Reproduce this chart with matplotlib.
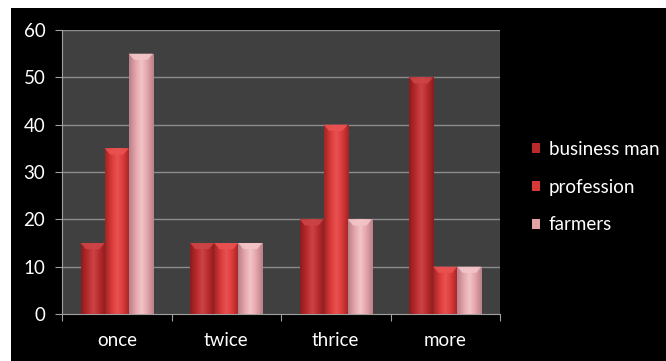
import matplotlib
matplotlib.use("Agg")
import matplotlib.pyplot as plt
import numpy as np
from matplotlib.colors import LinearSegmentedColormap
from matplotlib.patches import Rectangle, Polygon

categories = ["once", "twice", "thrice", "more"]
series_names = ["business man", "profession", "farmers"]
business_man = [15, 15, 20, 50]
profession = [35, 15, 40, 10]
farmers = [55, 15, 20, 10]
yticks = [0, 10, 20, 30, 40, 50, 60]

series = [business_man, profession, farmers]
base_colors = ["#b82a2c", "#d83838", "#e2a3a8"]
edge_dark = ["#8a1c1e", "#a02424", "#b88088"]
light = ["#cc4446", "#ea5252", "#f2c4c8"]

plt.rcParams['font.family'] = ['Lato', 'DejaVu Sans']

fig = plt.figure(figsize=(6.66, 3.61), dpi=100, facecolor="white")
bg = Rectangle((11/666, 0), 1, 1 - 8/361, transform=fig.transFigure,
               facecolor="black", edgecolor="none", zorder=-10)
fig.add_artist(bg)

ax = fig.add_axes([62/666, 1 - 314/361, (500-62)/666, (314-30)/361])
ax.set_zorder(1)
ax.set_facecolor("#404040")
ax.set_xlim(-0.5, 3.5)
ax.set_ylim(0, 60)

for y in yticks[1:]:
    ax.axhline(y, color="#8c8c8c", lw=1.0, zorder=1)

x = np.arange(len(categories))
w = 0.22
offsets = [-w, 0, w]
for i, (vals, name) in enumerate(zip(series, series_names)):
    cmap = LinearSegmentedColormap.from_list("g%d" % i, [edge_dark[i], base_colors[i], light[i], base_colors[i], edge_dark[i]])
    grad = np.linspace(0, 1, 64).reshape(1, -1)
    bars = ax.bar(x + offsets[i], vals, width=w, color=base_colors[i], label=name, zorder=2, edgecolor="none")
    for b in bars:
        bx, by, bw, bh = b.get_x(), b.get_y(), b.get_width(), b.get_height()
        im = ax.imshow(grad, cmap=cmap, aspect="auto", extent=[bx, bx + bw, by, by + bh], zorder=3, interpolation="bicubic")
        im.set_clip_path(b)
        bev = 1.3
        poly = Polygon([[bx, by + bh], [bx + bw, by + bh], [bx + bw*0.78, by + bh - bev], [bx + bw*0.22, by + bh - bev]],
                       closed=True, facecolor=light[i], edgecolor="none", alpha=0.9, zorder=4)
        ax.add_patch(poly)
ax.set_xlim(-0.5, 3.5)
ax.set_ylim(0, 60)

ax.set_yticks(yticks)
ax.set_xticks([-0.5, 0.5, 1.5, 2.5, 3.5], minor=False)
ax.set_xticklabels([])
ax.set_xticks(x, minor=True)
ax.set_xticklabels(categories, minor=True)
ax.tick_params(axis="x", which="minor", length=0, colors="white", labelsize=13.5, pad=13)
ax.tick_params(axis="x", which="major", length=5, color="#a0a0a0", direction="out")
ax.tick_params(axis="y", colors="white", labelsize=13.5, length=5, color="#a0a0a0", pad=7)
for lbl in ax.get_yticklabels() + ax.get_xticklabels(minor=True):
    lbl.set_color("white")
for s in ["top", "right"]:
    ax.spines[s].set_visible(False)
ax.spines["left"].set_color("#a0a0a0")
ax.spines["bottom"].set_color("#a0a0a0")

handles = [Rectangle((0, 0), 1, 1, facecolor=c) for c in base_colors]
leg = fig.legend(handles, series_names, loc="upper left", bbox_to_anchor=(532/666, 1 - 141/361),
                 frameon=False, fontsize=13.5, labelcolor="white", handlelength=0.45, handleheight=0.45,
                 handletextpad=0.45, labelspacing=1.1, borderpad=0, borderaxespad=0)
leg.set_zorder(2)

fig.savefig("out.png", dpi=100, facecolor=fig.get_facecolor())
